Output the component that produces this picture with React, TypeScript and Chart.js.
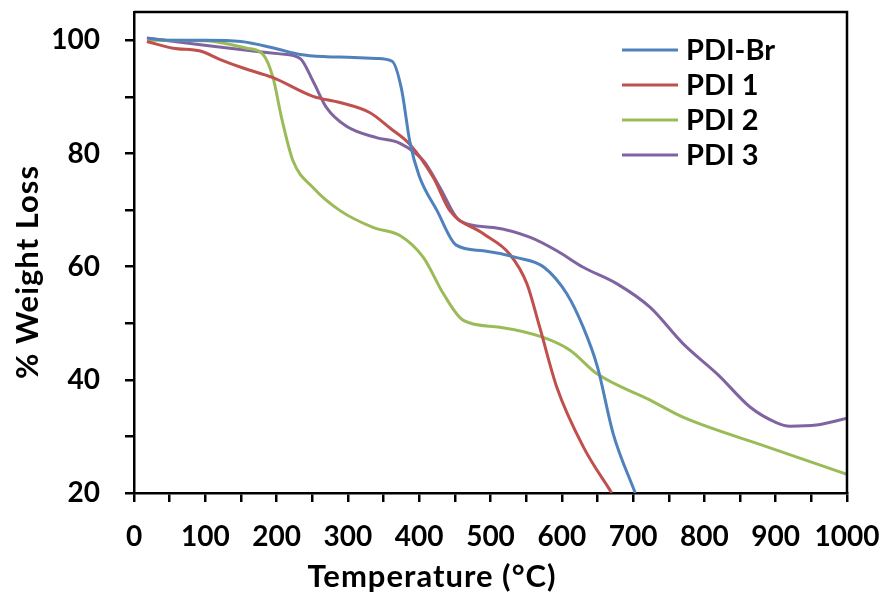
import React, { useEffect, useRef } from 'react';
import { Chart, registerables } from 'chart.js';

Chart.register(...registerables);

// ---- data ----
const seriesLabels = ['PDI-Br', 'PDI 1', 'PDI 2', 'PDI 3'];
const seriesColors = ['#4F81BD', '#C0504D', '#9BBB59', '#8064A2'];

const tempBr = [20, 50, 100, 150, 200, 233, 270, 300, 340, 362, 375, 387, 400, 425, 452, 490, 537, 575, 607, 630, 650, 672, 703];
const weightBr = [100.3, 100, 100, 99.8, 98.5, 97.5, 97.1, 97, 96.8, 96.3, 91.5, 82, 76, 69.9, 63.8, 62.8, 61.6, 59.9, 55.2, 49.3, 42.3, 30.5, 20];

const temp1 = [18, 55, 93, 121, 153, 195, 251, 289, 331, 359, 387, 420, 443, 490, 527, 551, 569, 593, 630, 670];
const weight1 = [99.8, 98.6, 98.1, 96.6, 95.1, 93.4, 90.1, 89, 87.2, 84.5, 81.6, 75.7, 69.9, 65.8, 62.2, 57, 49.3, 38.7, 28.2, 20];

const temp2 = [20, 100, 158, 181, 195, 207, 223, 251, 289, 336, 373, 406, 434, 462, 513, 574, 612, 649, 724, 770, 887, 1000];
const weight2 = [100, 99.9, 98.6, 97.5, 93.4, 86.3, 78.7, 74, 69.9, 66.9, 65.5, 61.6, 55.2, 50.5, 49.3, 47.5, 45.2, 41.1, 36.4, 33.4, 28.2, 23.3];

const temp3 = [18, 93, 167, 205, 233, 251, 270, 298, 340, 373, 406, 429, 457, 504, 555, 593, 630, 677, 724, 770, 820, 864, 900, 920, 957, 1000];
const weight3 = [100.4, 99.2, 98.1, 97.6, 96.8, 92.8, 88.1, 84.8, 82.8, 81.8, 78.7, 74, 68.1, 66.9, 65.2, 62.8, 59.9, 57, 52.8, 46.4, 40.8, 35.2, 32.5, 31.8, 32, 33.2];

const xTickLabels = ['0', '100', '200', '300', '400', '500', '600', '700', '800', '900', '1000'];
const yTickLabels = ['20', '40', '60', '80', '100'];

const xTitle = 'Temperature (\u00B0C)';
const yTitle = '% Weight Loss';

const temps = [tempBr, temp1, temp2, temp3];
const weights = [weightBr, weight1, weight2, weight3];

const FONT = 'Lato, "Open Sans", sans-serif';

const zeroPad = (s: any) => {
  s.paddingTop = 0;
  s.paddingBottom = 0;
  s.paddingLeft = 0;
  s.paddingRight = 0;
};

const decorPlugin = {
  id: 'decor',
  afterDraw(chart: any) {
    const { ctx, chartArea: a } = chart;
    ctx.save();
    // top & right frame
    ctx.strokeStyle = '#000';
    ctx.lineWidth = 2.5;
    ctx.beginPath();
    ctx.moveTo(a.left, a.top);
    ctx.lineTo(a.right, a.top);
    ctx.lineTo(a.right, a.bottom);
    ctx.stroke();

    // legend
    ctx.font = `bold 29px ${FONT}`;
    ctx.textBaseline = 'middle';
    ctx.textAlign = 'left';
    chart.data.datasets.forEach((ds: any, i: number) => {
      const y = 50 + i * 35;
      ctx.strokeStyle = ds.borderColor;
      ctx.lineWidth = 3;
      ctx.beginPath();
      ctx.moveTo(622, y);
      ctx.lineTo(678, y);
      ctx.stroke();
      ctx.fillStyle = '#000';
      ctx.fillText(ds.label, 686, y + 1);
    });

    // axis titles
    ctx.fillStyle = '#000';
    ctx.font = `bold 31px ${FONT}`;
    try { (ctx as any).letterSpacing = '1px'; } catch (e) { /* ignore */ }
    ctx.textAlign = 'center';
    ctx.textBaseline = 'middle';
    ctx.fillText(xTitle, 432, 577);
    ctx.translate(28, 272);
    ctx.rotate(-Math.PI / 2);
    ctx.fillText(yTitle, 0, 0);
    ctx.restore();
  },
};

export default function App() {
  const ref = useRef<HTMLCanvasElement | null>(null);

  useEffect(() => {
    document.body.style.margin = '0';
    if (!ref.current) return;
    const datasets = seriesLabels.map((label, i) => ({
      label,
      data: temps[i].map((t, j) => ({ x: t, y: weights[i][j] })),
      borderColor: seriesColors[i],
      backgroundColor: seriesColors[i],
      borderWidth: 3,
      pointRadius: 0,
      showLine: true,
      cubicInterpolationMode: 'monotone' as const,
      fill: false,
    }));

    const chart = new Chart(ref.current, {
      type: 'scatter',
      data: { datasets },
      options: {
        animation: false,
        responsive: false,
        layout: { autoPadding: false, padding: { top: 12, right: 40, left: 0, bottom: 0 } },
        plugins: {
          legend: { display: false },
          tooltip: { enabled: false },
        },
        scales: {
          x: {
            type: 'linear',
            min: 0,
            max: 1000,
            afterFit: (s: any) => { s.height = 99; zeroPad(s); },
            ticks: {
              stepSize: 50,
              includeBounds: false,
              autoSkip: false,
              maxRotation: 0,
              padding: 18,
              color: '#000',
              font: { family: FONT, size: 28, weight: 'bold' },
              callback: (v: any) => {
                const idx = xTickLabels.indexOf(String(v));
                return idx >= 0 ? xTickLabels[idx] : '';
              },
            },
            grid: {
              display: true,
              drawOnChartArea: false,
              drawTicks: true,
              tickLength: 9,
              color: '#000',
              lineWidth: 2.5,
            },
            border: { display: true, color: '#000', width: 2.5 },
          },
          y: {
            type: 'linear',
            min: 20,
            max: 105,
            afterFit: (s: any) => { s.width = 134; zeroPad(s); },
            ticks: {
              stepSize: 10,
              includeBounds: false,
              autoSkip: false,
              padding: 25,
              color: '#000',
              font: { family: FONT, size: 28, weight: 'bold' },
              callback: (v: any) => {
                const idx = yTickLabels.indexOf(String(v));
                return idx >= 0 ? yTickLabels[idx] : '';
              },
            },
            grid: {
              display: true,
              drawOnChartArea: false,
              drawTicks: true,
              tickLength: 9,
              color: '#000',
              lineWidth: 2.5,
            },
            border: { display: true, color: '#000', width: 2.5 },
          },
        },
      },
      plugins: [decorPlugin],
    });
    return () => chart.destroy();
  }, []);

  return (
    <div style={{ width: 887, height: 592, background: '#fff' }}>
      <canvas ref={ref} width={887} height={592} />
    </div>
  );
}
